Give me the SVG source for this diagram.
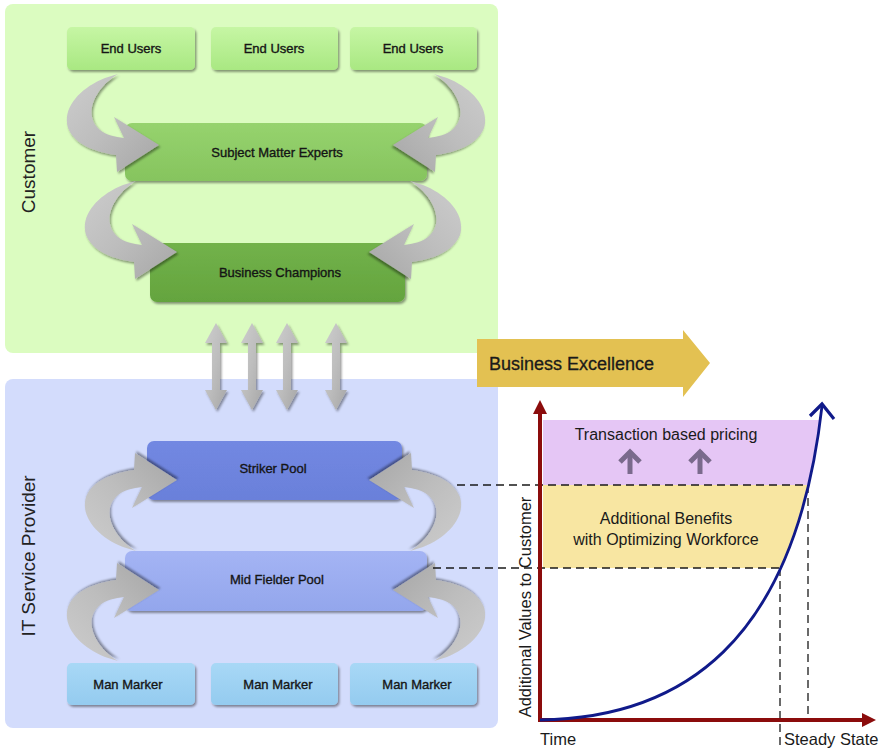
<svg xmlns="http://www.w3.org/2000/svg" xmlns:xlink="http://www.w3.org/1999/xlink" width="884" height="751" viewBox="0 0 884 751">
<style>
.node text{font-family:"Liberation Sans",Arial,sans-serif;font-size:13px;fill:#151515;stroke:#151515;stroke-width:0.35;text-anchor:middle}
.lbl{font-family:"Liberation Sans",Arial,sans-serif;fill:#222}
.dash{stroke:#1a1a1a;stroke-width:1.3;stroke-dasharray:8,5;fill:none}
.garrow{fill:url(#gGray);filter:url(#sh)}
</style>
<defs>
<filter id="sh" x="-20%" y="-20%" width="150%" height="160%">
<feDropShadow dx="1.5" dy="2" stdDeviation="1.3" flood-color="#000" flood-opacity="0.4"/>
</filter>
<linearGradient id="gGray" x1="0" y1="0" x2="1" y2="1">
<stop offset="0" stop-color="#cdcdcd"/><stop offset="0.5" stop-color="#bdbdbd"/><stop offset="1" stop-color="#a6a6a6"/>
</linearGradient>
<linearGradient id="gEU" x1="0" y1="0" x2="0" y2="1"><stop offset="0" stop-color="#c6f6a4"/><stop offset="1" stop-color="#a9e882"/></linearGradient>
<linearGradient id="gSME" x1="0" y1="0" x2="0" y2="1"><stop offset="0" stop-color="#96d36e"/><stop offset="1" stop-color="#86c45e"/></linearGradient>
<linearGradient id="gBC" x1="0" y1="0" x2="0" y2="1"><stop offset="0" stop-color="#72b24a"/><stop offset="1" stop-color="#64a43e"/></linearGradient>
<linearGradient id="gSP" x1="0" y1="0" x2="0" y2="1"><stop offset="0" stop-color="#7288e2"/><stop offset="1" stop-color="#6a80da"/></linearGradient>
<linearGradient id="gMF" x1="0" y1="0" x2="0" y2="1"><stop offset="0" stop-color="#a4b4f4"/><stop offset="1" stop-color="#93a6ec"/></linearGradient>
<linearGradient id="gMM" x1="0" y1="0" x2="0" y2="1"><stop offset="0" stop-color="#a8d8f6"/><stop offset="1" stop-color="#94cbef"/></linearGradient>
<path id="curv" d="M118,74 C95,88 82,115 100,130 C106,135 115,137 124,138 L114,117 L159,145 L117,172 L116,155 C95,152 75,145 68,128 C62,108 80,88 105,78 Z"/>
<path id="dbl" d="M0,323 L11,343 L4,343 L4,390 L11,390 L0,410 L-11,390 L-4,390 L-4,343 L-11,343 Z"/>
</defs>
<rect width="884" height="751" fill="#ffffff"/>

<!-- panels -->
<g id="customer-panel">
<rect x="5" y="4" width="493" height="349" rx="8" fill="#dbfcc0"/>
<text class="lbl" transform="translate(35,172) rotate(-90)" font-size="19" text-anchor="middle">Customer</text>
</g>
<g id="it-panel">
<rect x="5" y="379" width="493" height="349" rx="8" fill="#d3dcfc"/>
<text class="lbl" transform="translate(35,556) rotate(-90)" font-size="19" text-anchor="middle">IT Service Provider</text>
</g>

<!-- nodes -->
<g id="end-users-1" class="node"><rect x="67" y="27" width="128" height="43" rx="5" fill="url(#gEU)" filter="url(#sh)"/><text x="131" y="53">End Users</text></g>
<g id="end-users-2" class="node"><rect x="211" y="27" width="127" height="43" rx="5" fill="url(#gEU)" filter="url(#sh)"/><text x="274" y="53">End Users</text></g>
<g id="end-users-3" class="node"><rect x="350" y="27" width="127" height="43" rx="5" fill="url(#gEU)" filter="url(#sh)"/><text x="413" y="53">End Users</text></g>
<g id="sme" class="node"><rect x="125" y="123" width="302" height="58" rx="7" fill="url(#gSME)" filter="url(#sh)"/><text x="277" y="157">Subject Matter Experts</text></g>
<g id="business-champions" class="node"><rect x="150" y="243" width="255" height="59" rx="7" fill="url(#gBC)" filter="url(#sh)"/><text x="280" y="277">Business Champions</text></g>
<g id="striker-pool" class="node"><rect x="147" y="441" width="255" height="59" rx="7" fill="url(#gSP)" filter="url(#sh)"/><text x="273" y="473">Striker Pool</text></g>
<g id="mid-fielder-pool" class="node"><rect x="125" y="551" width="302" height="60" rx="7" fill="url(#gMF)" filter="url(#sh)"/><text x="277" y="584">Mid Fielder Pool</text></g>
<g id="man-marker-1" class="node"><rect x="67" y="663" width="128" height="42" rx="5" fill="url(#gMM)" filter="url(#sh)"/><text x="128" y="689">Man Marker</text></g>
<g id="man-marker-2" class="node"><rect x="211" y="663" width="127" height="42" rx="5" fill="url(#gMM)" filter="url(#sh)"/><text x="278" y="689">Man Marker</text></g>
<g id="man-marker-3" class="node"><rect x="350" y="663" width="127" height="42" rx="5" fill="url(#gMM)" filter="url(#sh)"/><text x="417" y="689">Man Marker</text></g>

<!-- connectors -->
<g id="connectors">
<use xlink:href="#curv" href="#curv" class="garrow"/>
<use xlink:href="#curv" href="#curv" class="garrow" transform="translate(552,0) scale(-1,1)"/>
<use xlink:href="#curv" href="#curv" class="garrow" transform="translate(18,107)"/>
<use xlink:href="#curv" href="#curv" class="garrow" transform="translate(528,107) scale(-1,1)"/>
<use xlink:href="#curv" href="#curv" class="garrow" transform="translate(18,625) scale(1,-1)"/>
<use xlink:href="#curv" href="#curv" class="garrow" transform="translate(528,625) scale(-1,-1)"/>
<use xlink:href="#curv" href="#curv" class="garrow" transform="translate(0,735) scale(1,-1)"/>
<use xlink:href="#curv" href="#curv" class="garrow" transform="translate(552,735) scale(-1,-1)"/>
<use xlink:href="#dbl" href="#dbl" class="garrow" transform="translate(216,0)"/>
<use xlink:href="#dbl" href="#dbl" class="garrow" transform="translate(252,0)"/>
<use xlink:href="#dbl" href="#dbl" class="garrow" transform="translate(287,0)"/>
<use xlink:href="#dbl" href="#dbl" class="garrow" transform="translate(336,0)"/>
</g>

<!-- business excellence arrow -->
<g id="business-excellence">
<path d="M477,339 L683,339 L683,330 L710,363 L683,397 L683,387 L477,387 Z" fill="#e3c152"/>
<text class="lbl" x="489" y="370" font-size="18" style="fill:#1a1a1a;stroke:#1a1a1a;stroke-width:0.3">Business Excellence</text>
</g>

<!-- chart -->
<g id="chart">
<polygon points="543,420 820,420 816,440 811,472 808,485 543,485" fill="#e5c6f5"/>
<polygon points="543,485 808,485 804,502 796,530 786,555 780,568 543,568" fill="#f8e6a2"/>
<g stroke="#7a6a8c" stroke-width="5" fill="none" stroke-linecap="butt">
<path d="M630,474 L630,454"/><path d="M620,462 L630,452 L640,462"/>
<path d="M700,474 L700,454"/><path d="M690,462 L700,452 L710,462"/>
</g>
<path class="dash" d="M457,485 L808,485 M433,568 L780,568 M780,568 L780,748 M808,485 L808,720"/>
<g fill="#8b0c0c">
<rect x="538" y="410" width="4" height="312"/>
<path d="M540,400 L547,414 L533,414 Z"/>
<rect x="540" y="718" width="325" height="4"/>
<path d="M876,720 L862,727 L862,713 Z"/>
</g>
<path d="M540,720 C680,718 795,645 822,406" fill="none" stroke="#101a8a" stroke-width="2.8"/>
<path d="M810,416 L822,404 L834,419" fill="none" stroke="#101a8a" stroke-width="3.2" stroke-linejoin="miter"/>
<g class="lbl" font-size="16" text-anchor="middle" style="fill:#1a1a1a">
<text x="666" y="440">Transaction based pricing</text>
<text x="666" y="524">Additional Benefits</text>
<text x="666" y="545">with Optimizing Workforce</text>
</g>
<text class="lbl" x="540" y="745" font-size="16.5" style="fill:#1a1a1a">Time</text>
<text class="lbl" x="784" y="745" font-size="16.5" style="fill:#1a1a1a">Steady State</text>
<text class="lbl" transform="translate(531,607) rotate(-90)" font-size="16.5" text-anchor="middle" style="fill:#1a1a1a">Additional Values to Customer</text>
</g>
</svg>
